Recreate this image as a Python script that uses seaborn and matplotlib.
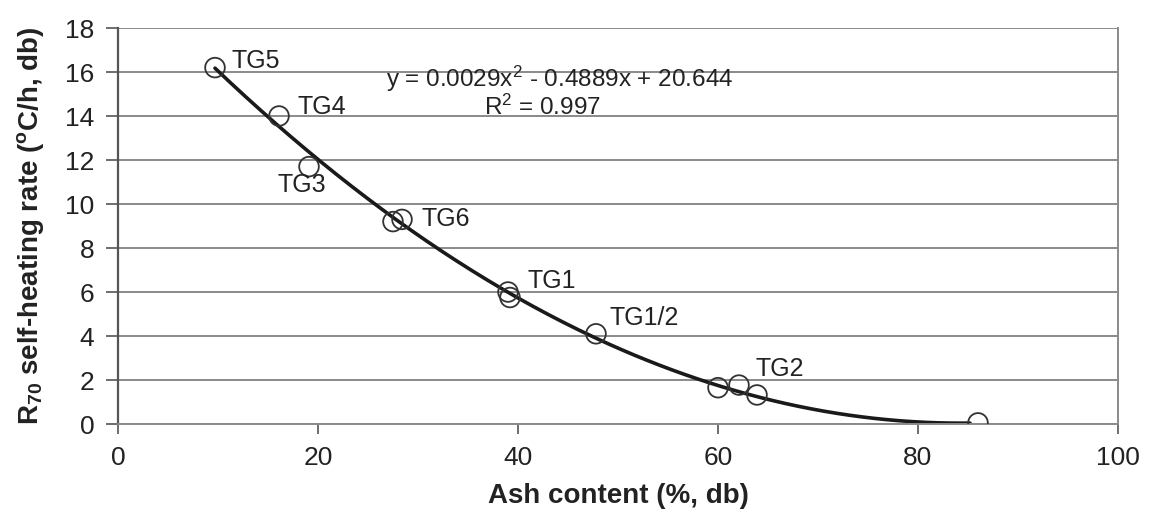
import numpy as np
import pandas as pd
import matplotlib
matplotlib.use("Agg")
import matplotlib.pyplot as plt
import seaborn as sns

# Ash content (%, db) and R70 self-heating rate (°C/h, db)
ash = [9.7, 16.1, 19.1, 27.5, 28.4, 39.0, 39.2, 47.8, 60.0, 62.1, 63.9, 86.0]
rate = [16.2, 14.0, 11.7, 9.2, 9.3, 6.0, 5.75, 4.1, 1.65, 1.77, 1.32, 0.05]

# Sample labels and where they sit
label_names = ["TG5", "TG4", "TG3", "TG6", "TG1", "TG1/2", "TG2"]
label_x = [11.4, 18.0, 16.0, 30.3, 40.9, 49.2, 63.7]
label_y = [16.5, 14.4, 10.85, 9.32, 6.5, 4.84, 2.5]

# Quadratic trendline coefficients and fit quality
coef_a, coef_b, coef_c = 0.0029, -0.4889, 20.644
r_squared = 0.997
fit_range = (9.7, 85.2)

sns.set_theme(style="white")
plt.rcParams["font.family"] = ["Liberation Sans", "DejaVu Sans"]
plt.rcParams["mathtext.fontset"] = "custom"
plt.rcParams["mathtext.rm"] = "Liberation Sans"
plt.rcParams["mathtext.bf"] = "Liberation Sans:bold"
plt.rcParams["mathtext.it"] = "Liberation Sans:italic"

fig = plt.figure(figsize=(11.52, 5.11), dpi=100)
ax = fig.add_axes([118 / 1152, 1 - 424 / 511, 1000 / 1152, 396 / 511])

xs = np.linspace(fit_range[0], fit_range[1], 300)
fit = pd.DataFrame({"x": xs, "y": coef_a * xs**2 + coef_b * xs + coef_c})
pts = pd.DataFrame({"ash": ash, "rate": rate})

for yv in range(0, 19, 2):
    ax.axhline(yv, color="#8a8a8a", lw=1.4, zorder=0)

sns.lineplot(data=fit, x="x", y="y", color="#1a1a1a", lw=2.6, ax=ax, zorder=2)
sns.scatterplot(data=pts, x="ash", y="rate", s=200, facecolor="none",
                edgecolor="#333333", linewidth=1.3, ax=ax, zorder=3)

for name, lx, ly in zip(label_names, label_x, label_y):
    ax.text(lx, ly, name, fontsize=18, color="#222222", va="center", ha="left")

ax.text(44.2, 15.7, f"y = {coef_a}x$^2$ - {abs(coef_b)}x + {coef_c}",
        fontsize=17.5, color="#222222", ha="center", va="center")
ax.text(42.4, 14.4, f"R$^2$ = {r_squared}", fontsize=17.5, color="#222222",
        ha="center", va="center")

ax.set_xlim(0, 100)
ax.set_ylim(0, 18)
ax.set_xticks(range(0, 101, 20))
ax.set_yticks(range(0, 19, 2))
ax.tick_params(axis="both", which="major", direction="out", width=1.2,
               color="#555555", labelsize=19, labelcolor="#222222",
               bottom=True, left=True)
ax.tick_params(axis="x", length=7, pad=9)
ax.tick_params(axis="y", length=8.5, pad=8.5)

ax.spines["top"].set_visible(False)
ax.spines["left"].set_color("#555555")
ax.spines["left"].set_linewidth(1.6)
ax.spines["right"].set_color("#8a8a8a")
ax.spines["right"].set_linewidth(1.4)
ax.spines["bottom"].set_color("#8a8a8a")
ax.spines["bottom"].set_linewidth(1.4)

ax.set_xlabel("Ash content (%, db)", fontsize=20, fontweight="bold",
              color="#222222", labelpad=9)
ax.set_ylabel(r"R$_{\mathbf{70}}$ self-heating rate ($^{\mathbf{o}}$C/h, db)",
              fontsize=20, fontweight="bold", color="#222222", labelpad=14)

fig.savefig("out.png", dpi=100)
